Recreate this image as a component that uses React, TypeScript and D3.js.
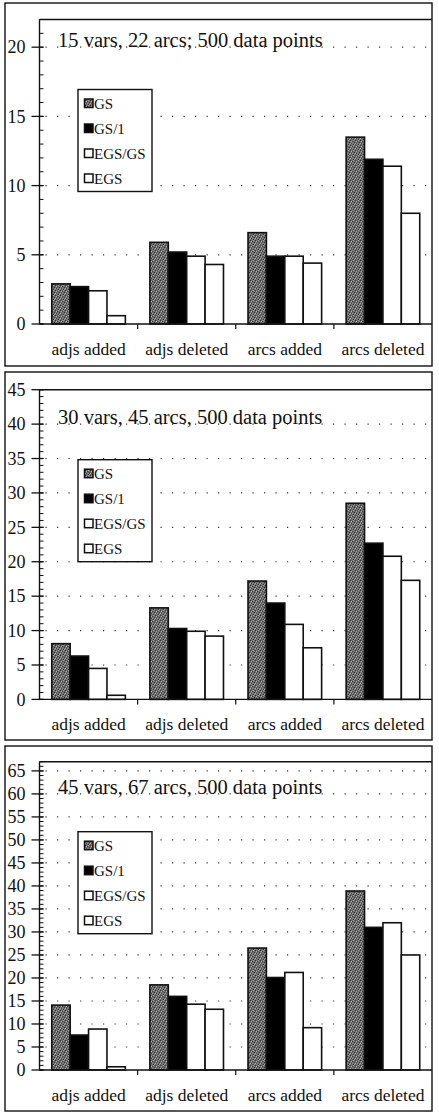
import * as d3 from "d3";
import React from "react";

// ── Data ─────────────────────────────────────────────────────────────────────
const categories = ["adjs added", "adjs deleted", "arcs added", "arcs deleted"];
const seriesNames = ["GS", "GS/1", "EGS/GS", "EGS"];

const titles = [
  "15 vars, 22 arcs; 500 data points",
  "30 vars, 45 arcs, 500 data points",
  "45 vars, 67 arcs, 500 data points",
];
const yMax = [22, 45, 67];
const titleAt = [20, 40, 60];

// values[panel][series][category]
const panel1 = [
  [2.9, 5.9, 6.6, 13.5],
  [2.7, 5.2, 4.9, 11.9],
  [2.4, 4.9, 4.9, 11.4],
  [0.6, 4.3, 4.4, 8.0],
];
const panel2 = [
  [8.1, 13.3, 17.2, 28.5],
  [6.3, 10.3, 14.0, 22.7],
  [4.5, 9.9, 10.9, 20.8],
  [0.6, 9.2, 7.5, 17.3],
];
const panel3 = [
  [14.1, 18.5, 26.5, 38.9],
  [7.6, 16.0, 20.1, 31.0],
  [8.9, 14.3, 21.2, 32.0],
  [0.7, 13.2, 9.2, 25.0],
];
const panels = [panel1, panel2, panel3];

// ── Layout ───────────────────────────────────────────────────────────────────
const W = 439;
const H = 1115;
const FONT = "Liberation Serif";
const BOX_X0 = 5;
const BOX_X1 = 432;
const AXIS_X = 39.5;
const boxes = [
  { top: 3, bottom: 366, plotTop: 19.5, zero: 324 },
  { top: 372, bottom: 740, plotTop: 389.7, zero: 699.4 },
  { top: 746, bottom: 1111, plotTop: 761.7, zero: 1070 },
];

const FILLS = ["url(#stipple)", "#000", "#fff", "#fff"];

function Panel({ idx }: { idx: number }) {
  const b = boxes[idx];
  const data = panels[idx];
  const y = d3.scaleLinear().domain([0, yMax[idx]]).range([b.zero, b.plotTop]);
  const x0 = d3
    .scaleBand<string>()
    .domain(categories)
    .range([AXIS_X, BOX_X1])
    .paddingInner(0.25)
    .paddingOuter(0.125);
  const x1 = d3.scaleBand<string>().domain(seriesNames).range([0, x0.bandwidth()]);
  const step = x0.step();

  const majors = d3.range(0, yMax[idx] + 0.01, 5);
  const minors = d3.range(0, yMax[idx] + 0.01, 1);
  const legX = 78;
  const legY = b.plotTop + 70;

  return (
    <g>
      {/* outer frame */}
      <rect
        x={BOX_X0}
        y={b.top}
        width={BOX_X1 - BOX_X0}
        height={b.bottom - b.top}
        fill="#fff"
        stroke="#111"
        strokeWidth={1.4}
      />
      {/* dotted grid */}
      {majors
        .filter((v) => v > 0 && y(v) > b.plotTop + 2)
        .map((v) => (
          <line
            key={"g" + v}
            x1={AXIS_X + 6}
            x2={BOX_X1 - 1}
            y1={y(v)}
            y2={y(v)}
            stroke="#333"
            strokeWidth={1.2}
            strokeDasharray="1.2 10.3"
          />
        ))}
      {/* plot top line */}
      <line x1={AXIS_X} x2={BOX_X1} y1={b.plotTop} y2={b.plotTop} stroke="#111" strokeWidth={1.4} />
      {/* title */}
      <text x={58} y={y(titleAt[idx])} fontFamily={FONT} fontSize={20.5} fill="#111">
        {titles[idx]}
      </text>
      {/* bars */}
      {seriesNames.map((s, si) =>
        categories.map((c, ci) => (
          <rect
            key={s + c}
            x={(x0(c) ?? 0) + (x1(s) ?? 0)}
            y={y(data[si][ci])}
            width={x1.bandwidth()}
            height={b.zero - y(data[si][ci])}
            fill={FILLS[si]}
            stroke="#111"
            strokeWidth={1.6}
          />
        ))
      )}
      {/* y axis */}
      <line x1={AXIS_X} x2={AXIS_X} y1={b.plotTop} y2={b.zero} stroke="#111" strokeWidth={1.4} />
      {minors.map((v) => (
        <line key={"m" + v} x1={AXIS_X} x2={AXIS_X + 4} y1={y(v)} y2={y(v)} stroke="#111" strokeWidth={1} />
      ))}
      {majors.map((v) => (
        <g key={"t" + v}>
          <line x1={AXIS_X - 8} x2={AXIS_X + 4} y1={y(v)} y2={y(v)} stroke="#111" strokeWidth={1.3} />
          <text
            x={25.5}
            y={y(v)}
            dy="0.35em"
            textAnchor="end"
            fontFamily={FONT}
            fontSize={18}
            fill="#111"
          >
            {v}
          </text>
        </g>
      ))}
      {/* x axis */}
      <line x1={AXIS_X} x2={BOX_X1} y1={b.zero} y2={b.zero} stroke="#111" strokeWidth={1.4} />
      {categories.slice(1).map((c) => (
        <line
          key={"xt" + c}
          x1={(x0(c) ?? 0) - step * 0.125}
          x2={(x0(c) ?? 0) - step * 0.125}
          y1={b.zero}
          y2={b.zero + 5}
          stroke="#111"
          strokeWidth={1.2}
        />
      ))}
      {categories.map((c) => (
        <text
          key={"xl" + c}
          x={(x0(c) ?? 0) + x0.bandwidth() / 2}
          y={b.zero + 31}
          textAnchor="middle"
          fontFamily={FONT}
          fontSize={17.5}
          fill="#111"
        >
          {c}
        </text>
      ))}
      {/* legend */}
      <rect x={legX} y={legY} width={74} height={102} fill="#fff" stroke="#111" strokeWidth={1.4} />
      {seriesNames.map((s, si) => {
        const cy = legY + 14 + si * 25;
        return (
          <g key={"l" + s}>
            <rect
              x={legX + 6.5}
              y={cy - 4.5}
              width={8.5}
              height={8.5}
              fill={FILLS[si]}
              stroke="#111"
              strokeWidth={1.5}
            />
            <text x={legX + 16} y={cy} dy="0.35em" fontFamily={FONT} fontSize={15} fill="#111">
              {s}
            </text>
          </g>
        );
      })}
    </g>
  );
}

export default function App() {
  return (
    <svg
      width={W}
      height={H}
      viewBox={`0 0 ${W} ${H}`}
      style={{ position: "absolute", left: 0, top: 0, background: "#fff" }}
    >
      <defs>
        <pattern id="stipple" width={5} height={5} patternUnits="userSpaceOnUse">
          <rect width={5} height={5} fill="#6e6e6e" />
          <rect x={0} y={0} width={1} height={1} fill="#2e2e2e" />
          <rect x={2} y={1} width={1} height={1} fill="#3a3a3a" />
          <rect x={4} y={2} width={1} height={1} fill="#333" />
          <rect x={1} y={3} width={1} height={1} fill="#444" />
          <rect x={3} y={4} width={1} height={1} fill="#2a2a2a" />
          <rect x={1} y={1} width={1} height={1} fill="#b5b5b5" />
          <rect x={3} y={0} width={1} height={1} fill="#a5a5a5" />
          <rect x={0} y={3} width={1} height={1} fill="#ababab" />
          <rect x={4} y={4} width={1} height={1} fill="#9d9d9d" />
          <rect x={2} y={3} width={1} height={1} fill="#8a8a8a" />
        </pattern>
      </defs>
      {titles.map((_, i) => (
        <Panel key={i} idx={i} />
      ))}
    </svg>
  );
}
